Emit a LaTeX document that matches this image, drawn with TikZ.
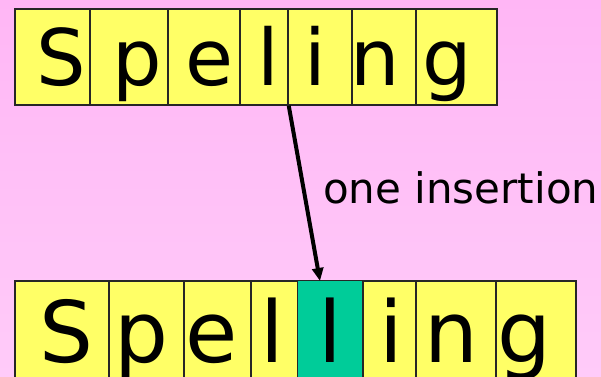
\documentclass[tikz,border=0pt]{standalone}
\usepackage{fontspec}
\setmainfont{DejaVu Sans}
\usetikzlibrary{arrows.meta}
\definecolor{bgtop}{HTML}{FFB6F5}
\definecolor{bgbot}{HTML}{FFCBF9}
\definecolor{cellyellow}{HTML}{FFFF66}
\definecolor{cellgreen}{HTML}{00CC99}
\begin{document}
\begin{tikzpicture}[x=1pt,y=-1pt,
  cell/.style={draw=black!85, line width=1.5pt, fill=cellyellow, inner sep=0pt},
  toplet/.style={anchor=base, inner sep=0pt, font=\fontsize{78}{80}\selectfont},
  botlet/.style={anchor=base, inner sep=0pt, font=\fontsize{85}{88}\selectfont},
  lbl/.style={anchor=base west, inner sep=0pt, font=\fontsize{42}{46}\selectfont},
  arr/.style={line width=4pt, -{Triangle[length=13pt,width=11pt]}}]
\useasboundingbox (0,0) rectangle (601,376);
\clip (0,0) rectangle (601,376);
\shade[top color=bgtop, bottom color=bgbot] (0,0) rectangle (601,376);
% top row
\foreach \i/\l/\r/\c/\lx in {1/15/90/S/61, 2/90/168/p/137, 3/168/240/e/209, 4/240/288/l/268, 5/288/352/i/315, 6/352/416/n/375, 7/416/497/g/447}{
  \node[cell, minimum width={\r-\l}, minimum height=96pt] (t\i) at ({(\l+\r)/2},57) {};
}
\foreach \i/\c/\lx in {1/S/61, 2/p/137, 3/e/209, 4/l/268, 5/i/315, 6/n/375, 7/g/447}{
  \node[toplet] (lt\i) at (\lx,85) {\c};
}
% bottom row
\foreach \i/\l/\r in {1/15/109, 2/109/184, 3/184/251, 4/251/298, 5/298/362, 6/362/416, 7/416/496, 8/496/576}{
  \node[cell, minimum width={\r-\l}, minimum height=119pt] (b\i) at ({(\l+\r)/2},340.5) {};
}
\fill[cellgreen] (b5.north west) rectangle (b5.south east);
\draw[draw=black!85, line width=1.5pt] (b5.north west) rectangle (b5.south east);
\foreach \i/\c/\lx in {1/S/66.5, 2/p/141.5, 3/e/212, 4/l/272, 5/l/330, 6/i/391, 7/n/451, 8/g/524}{
  \node[botlet] (lb\i) at (\lx,362) {\c};
}
% arrow and label
\coordinate (tip) at (320,281);
\draw[arr] (t4.south east) -- (tip);
\node[lbl] (ins) at (323,203) {one insertion};
\end{tikzpicture}
\end{document}
